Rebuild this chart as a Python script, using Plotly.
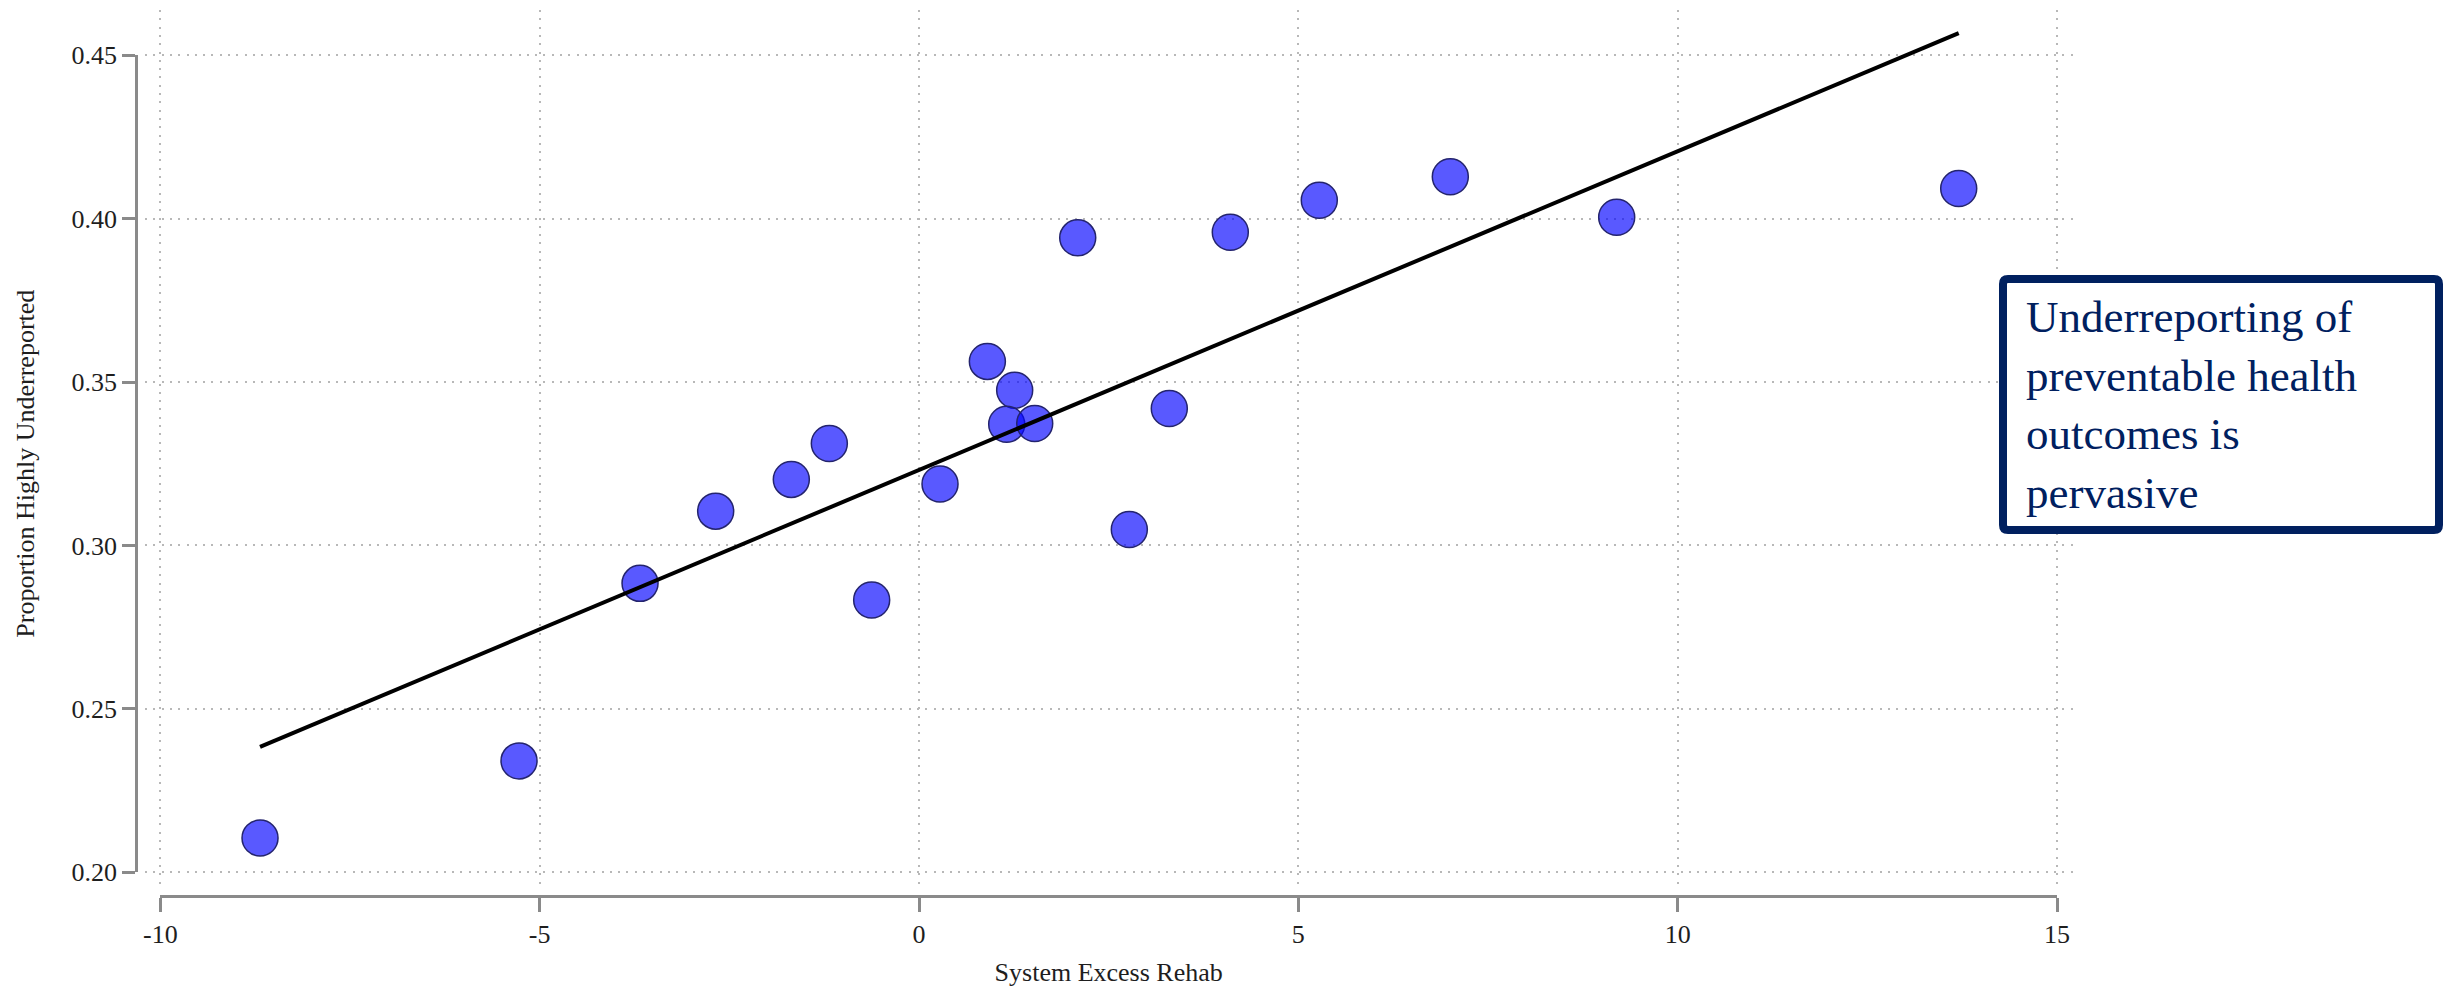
import plotly.graph_objects as go

# ---- data -------------------------------------------------------------
excess_rehab = [-8.686, -5.272, -3.677, -2.680, -1.683, -1.182, -0.624, 0.277,
                0.901, 1.261, 1.156, 1.525, 2.092, 2.772, 3.299, 4.103,
                5.276, 7.003, 9.196, 13.704]
prop_underreported = [0.2105, 0.2341, 0.2884, 0.3105, 0.3202, 0.3312, 0.2833, 0.3188,
                      0.3563, 0.3475, 0.3371, 0.3373, 0.3941, 0.3049, 0.3419, 0.3958,
                      0.4056, 0.4128, 0.4004, 0.4092]

# linear fit endpoints
fit_x = [-8.686, 13.704]
fit_y = [0.2384, 0.4567]

x_ticks = [-10, -5, 0, 5, 10, 15]
x_tick_labels = ["-10", "-5", "0", "5", "10", "15"]
y_ticks = [0.20, 0.25, 0.30, 0.35, 0.40, 0.45]
y_tick_labels = ["0.20", "0.25", "0.30", "0.35", "0.40", "0.45"]

x_title = "System Excess Rehab"
y_title = "Proportion Highly Underreported"
note_lines = ["Underreporting of", "preventable health", "outcomes is", "pervasive"]

# ---- layout geometry (pixels) -----------------------------------------
FIG_W, FIG_H = 2446, 993
L, R, T, B = 136, 370, 10, 97
PW, PH = FIG_W - L - R, FIG_H - T - B

# area covered by the dotted grid
gx0, gx1, gy0, gy1 = 145, 2076, 10, 890
xr = [-10.202, 15.250]
yr = [0.1946, 0.4638]


def px_of(v):
    return gx0 + (v - xr[0]) / (xr[1] - xr[0]) * (gx1 - gx0)


def py_of(v):
    return gy1 - (v - yr[0]) / (yr[1] - yr[0]) * (gy1 - gy0)


def xp(px):
    return (px - L) / PW


def yp(py):
    return (FIG_H - B - py) / PH


FONT = "Liberation Serif, DejaVu Serif, serif"
AX_COL = "#8a8a8a"
TXT_COL = "#1e1e1e"
NAVY = "#00205f"

fig = go.Figure()

# detached axes carrying the lines, ticks and labels (drawn first, underneath)
fig.add_trace(go.Scatter(x=[], y=[], xaxis="x2", yaxis="y2",
                         showlegend=False, hoverinfo="skip"))

fig.add_trace(go.Scatter(
    x=excess_rehab, y=prop_underreported, mode="markers",
    marker=dict(size=36, color="rgba(0,0,255,0.65)",
                line=dict(color="#24246e", width=1.5)),
    showlegend=False, hoverinfo="x+y",
))

fig.add_trace(go.Scatter(
    x=fit_x, y=fit_y, mode="lines",
    line=dict(color="black", width=4),
    showlegend=False, hoverinfo="skip",
))

grid = dict(showgrid=True, gridcolor="#b8b8b8", gridwidth=1.5,
            griddash="2px,6.3px", zeroline=False, showline=False,
            ticks="", showticklabels=False, automargin=False)

fig.update_layout(
    width=FIG_W, height=FIG_H,
    margin=dict(l=L, r=R, t=T, b=B, pad=0),
    paper_bgcolor="white", plot_bgcolor="rgba(0,0,0,0)",
    font=dict(family=FONT, size=26, color=TXT_COL),
    xaxis=dict(range=xr, domain=[xp(gx0), xp(gx1)], tickvals=x_ticks, **grid),
    yaxis=dict(range=yr, domain=[yp(gy1), yp(gy0)], tickvals=y_ticks, **grid),
    xaxis2=dict(
        range=[x_ticks[0], x_ticks[-1]],
        domain=[xp(px_of(x_ticks[0])), xp(px_of(x_ticks[-1]))],
        anchor="free", position=0,
        showline=True, linecolor=AX_COL, linewidth=2.5,
        ticks="outside", ticklen=14, tickwidth=2.5, tickcolor=AX_COL,
        tickvals=x_ticks, ticktext=x_tick_labels,
        tickfont=dict(family=FONT, size=26, color=TXT_COL),
        showgrid=False, zeroline=False, automargin=False,
        title=dict(text=x_title, font=dict(family=FONT, size=26, color=TXT_COL),
                   standoff=14),
    ),
    yaxis2=dict(
        range=[y_ticks[0], y_ticks[-1]],
        domain=[yp(py_of(y_ticks[0])), yp(py_of(y_ticks[-1]))],
        anchor="free", position=0,
        showline=True, linecolor=AX_COL, linewidth=2.5,
        ticks="outside", ticklen=13, tickwidth=2.5, tickcolor=AX_COL,
        tickvals=y_ticks, ticktext=y_tick_labels,
        tickfont=dict(family=FONT, size=26, color=TXT_COL),
        showgrid=False, zeroline=False, automargin=False,
        title=dict(text=y_title, font=dict(family=FONT, size=26, color=TXT_COL),
                   standoff=28),
    ),
)

# rounded note box
bx0, bx1, by0, by1, rad = 2003, 2439, 279, 530, 5
path = (f"M {xp(bx0 + rad)} {yp(by0)} L {xp(bx1 - rad)} {yp(by0)} "
        f"Q {xp(bx1)} {yp(by0)} {xp(bx1)} {yp(by0 + rad)} "
        f"L {xp(bx1)} {yp(by1 - rad)} Q {xp(bx1)} {yp(by1)} {xp(bx1 - rad)} {yp(by1)} "
        f"L {xp(bx0 + rad)} {yp(by1)} Q {xp(bx0)} {yp(by1)} {xp(bx0)} {yp(by1 - rad)} "
        f"L {xp(bx0)} {yp(by0 + rad)} Q {xp(bx0)} {yp(by0)} {xp(bx0 + rad)} {yp(by0)} Z")
fig.add_shape(type="path", path=path, xref="paper", yref="paper",
              line=dict(color=NAVY, width=8), fillcolor="white", layer="above")

fig.add_annotation(
    text="<br>".join(note_lines), xref="paper", yref="paper",
    x=xp(2024), y=yp(405), xanchor="left", yanchor="middle", align="left",
    showarrow=False, font=dict(family=FONT, size=45, color=NAVY),
)

fig.write_html("out.html")
